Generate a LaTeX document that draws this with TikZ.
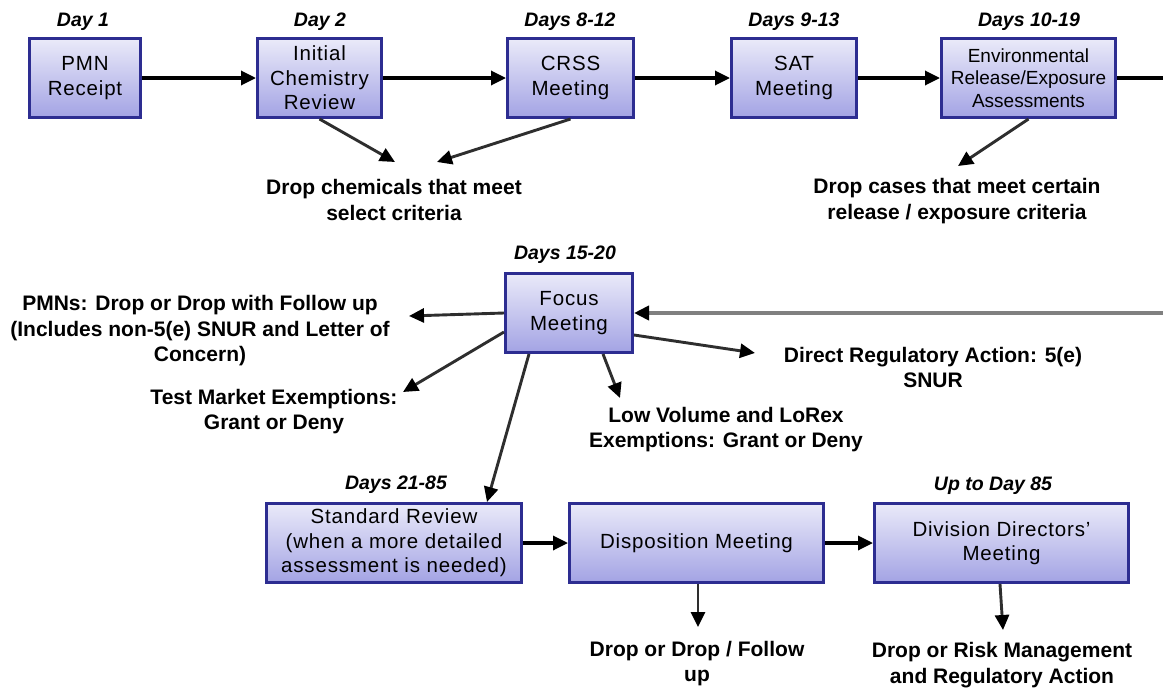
\documentclass[tikz,border=0pt]{standalone}
\usepackage{fontspec}
\setmainfont{Liberation Sans}
\newfontfamily\boxfont[LetterSpace=4]{Liberation Sans}
\usetikzlibrary{arrows.meta,calc}
\definecolor{boxborder}{RGB}{45,45,145}
\definecolor{boxtop}{RGB}{234,234,249}
\definecolor{boxbot}{RGB}{163,163,228}
\definecolor{feedgray}{RGB}{128,128,128}
\begin{document}
\begin{tikzpicture}[x=1pt,y=-1pt,
 box/.style={draw=boxborder,line width=3pt,top color=boxtop,bottom color=boxbot,
   minimum height=79pt,inner sep=0pt,align=center,
   font=\boxfont\fontsize{20.5}{24.5}\selectfont},
 lbl/.style={font=\bfseries\fontsize{21}{25.5}\selectfont,align=center,inner sep=0pt},
 day/.style={font=\bfseries\itshape\fontsize{19.5}{22}\selectfont,inner sep=0pt},
 flow/.style={draw=black,line width=3.3pt,-{Triangle[length=15pt,width=14pt]}},
 side/.style={draw=black!82,line width=2.9pt,-{Triangle[length=15pt,width=14pt,color=black]}},
 feed/.style={draw=feedgray,line width=4.2pt,-{Triangle[length=15pt,width=14pt,color=black]}},
]
\useasboundingbox (0,0) rectangle (1163,691);

% top row
\node[box,minimum width=111pt] (pmn) at (85,78) {PMN\\Receipt};
\node[box,minimum width=124pt] (icr) at (319.5,78) {Initial\\Chemistry\\Review};
\node[box,minimum width=126pt] (crss) at (570.5,78) {CRSS\\Meeting};
\node[box,minimum width=125pt] (sat) at (794,78) {SAT\\Meeting};
\node[box,minimum width=174pt,font=\fontsize{19}{22.5}\selectfont] (env) at (1028.5,78)
  {Environmental\\Release/Exposure\\Assessments};

\node[day] (d1) at (83,22) {Day 1};
\node[day] (d2) at (320,22) {Day 2};
\node[day] (d3) at (570,22) {Days 8-12};
\node[day] (d4) at (794,22) {Days 9-13};
\node[day] (d5) at (1029,22) {Days 10-19};

\draw[flow] (pmn) -- (icr);
\draw[flow] (icr) -- (crss);
\draw[flow] (crss) -- (sat);
\draw[flow] (sat) -- (env);
\coordinate (edgeA) at (1163,78);
\draw[draw=black,line width=3.3pt] (env.east) -- (edgeA);

\node[lbl] (dropchem) at (394,200) {Drop chemicals that meet\\select criteria};
\node[lbl] (dropcase) at (957,201) {Drop cases that meet certain\\release / exposure criteria};
\coordinate (tipA) at (395,162);
\coordinate (tipB) at (437,162);
\coordinate (tipC) at (958,166);
\draw[side] (icr.south) -- (tipA);
\draw[side] (crss.south) -- (tipB);
\draw[side] (env.south) -- (tipC);

% focus meeting
\node[box,minimum width=127pt] (focus) at (569,313) {Focus\\Meeting};
\node[day] (d6) at (565,255) {Days 15-20};
\coordinate (edgeB) at (1163,313);
\draw[feed] (edgeB) -- (focus.east);

\node[lbl] (pmns) at (200,331) {PMNs: Drop or Drop with Follow up\\(Includes non-5(e) SNUR and Letter of\\Concern)};
\node[lbl] (tme) at (274,411.5) {Test Market Exemptions:\\Grant or Deny};
\node[lbl] (lvx) at (726,429.5) {Low Volume and LoRex\\Exemptions: Grant or Deny};
\node[lbl] (dra) at (933,367.5) {Direct Regulatory Action: 5(e)\\SNUR};

\coordinate (tipD) at (409,316);
\coordinate (tipE) at (403,392);
\coordinate (tipF) at (620,398);
\coordinate (tipG) at (755,353);
\draw[side] (focus.west) -- (tipD);
\draw[side] ([yshift=-19pt]focus.west) -- (tipE);
\draw[side] ([xshift=34pt]focus.south) -- (tipF);
\draw[side] ([yshift=-22pt]focus.east) -- (tipG);

% bottom row
\node[box,minimum width=255pt] (std) at (394,543)
  {Standard Review\\(when a more detailed\\assessment is needed)};
\node[box,minimum width=254pt] (disp) at (696.5,543) {Disposition Meeting};
\node[box,minimum width=254pt] (ddm) at (1001.5,543) {Division Directors’\\Meeting};
\node[day] (d7) at (396,485) {Days 21-85};
\node[day] (d8) at (993,486) {Up to Day 85};

\draw[side] ([xshift=-40pt]focus.south) -- ([xshift=93pt]std.north);
\draw[flow] (std) -- (disp);
\draw[flow] (disp) -- (ddm);

\node[lbl] (dropf) at (697,663.5) {Drop or Drop / Follow\\up};
\node[lbl] (droprisk) at (1002,665) {Drop or Risk Management\\and Regulatory Action};
\coordinate (tipH) at (698,627);
\coordinate (tipI) at (1003,630);
\draw[side] ([xshift=1.5pt]disp.south) -- (tipH);
\draw[side] ([xshift=-1.5pt]ddm.south) -- (tipI);
\end{tikzpicture}
\end{document}
